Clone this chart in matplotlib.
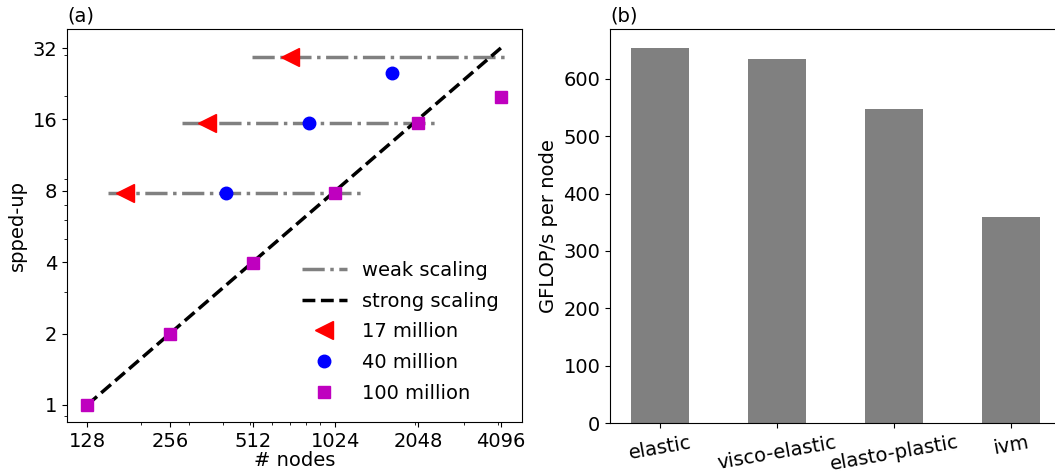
import matplotlib
matplotlib.use("Agg")
import matplotlib.pyplot as plt
from matplotlib.ticker import FixedLocator, NullFormatter, FixedFormatter

# ---- panel (a) data ----
nodes_ticks = [128, 256, 512, 1024, 2048, 4096]
speedup_ticks = [1, 2, 4, 8, 16, 32]

weak_y = [7.8, 15.5, 29.2]
weak_x_start = [152, 284, 509]
weak_x_end = [1312, 2426, 4350]

strong_x = [128, 4096]
strong_y = [1, 32]

m17_x = [175, 350, 700]
m17_y = [7.8, 15.5, 29.2]

m40_x = [410, 820, 1640]
m40_y = [7.8, 15.5, 25.0]

m100_x = [128, 256, 512, 1024, 2048, 4096]
m100_y = [1.0, 2.0, 3.95, 7.8, 15.5, 19.8]

# ---- panel (b) data ----
models = ["elastic", "visco-elastic", "elasto-plastic", "ivm"]
gflops = [653, 635, 548, 360]

plt.rcParams['font.family'] = ['DejaVu Sans']
plt.rcParams['font.size'] = 14

fig = plt.figure(figsize=(10.55, 4.73), dpi=100)
W, H = 1055, 473
ax1 = fig.add_axes([67 / W, (H - 422) / H, 454.5 / W, 392.5 / H])
ax2 = fig.add_axes([610 / W, (H - 423.3) / H, 451 / W, 393.8 / H])

# weak scaling lines
for i, (xs, xe, y) in enumerate(zip(weak_x_start, weak_x_end, weak_y)):
    ax1.plot([xs, xe], [y, y], color='gray', linestyle='-.', linewidth=2.5,
             label='weak scaling' if i == 0 else None, zorder=2)
ax1.plot(strong_x, strong_y, color='black', linestyle='--', linewidth=2.5,
         label='strong scaling', zorder=3)
ax1.plot(m17_x, m17_y, linestyle='none', marker='<', color='red', markersize=13,
         label='17 million', zorder=4)
ax1.plot(m40_x, m40_y, linestyle='none', marker='o', color='blue', markersize=9,
         label='40 million', zorder=4)
ax1.plot(m100_x, m100_y, linestyle='none', marker='s', color='m', markersize=8.5,
         label='100 million', zorder=4)

ax1.set_xscale('log')
ax1.set_yscale('log')
ax1.set_xlim(108, 4870)
ax1.set_ylim(0.847, 38.3)
ax1.xaxis.set_major_locator(FixedLocator(nodes_ticks))
ax1.xaxis.set_major_formatter(FixedFormatter([str(v) for v in nodes_ticks]))
ax1.xaxis.set_minor_formatter(NullFormatter())
ax1.yaxis.set_major_locator(FixedLocator(speedup_ticks))
ax1.yaxis.set_major_formatter(FixedFormatter([str(v) for v in speedup_ticks]))
ax1.yaxis.set_minor_formatter(NullFormatter())
ax1.set_xlabel('# nodes', labelpad=0)
ax1.set_ylabel('spped-up')
ax1.set_title('(a)', loc='left', fontsize=14)
ax1.legend(loc='lower right', bbox_to_anchor=(0.989, 0.005), frameon=False,
           fontsize=14, handlelength=2.3, labelspacing=0.6)

# panel (b)
xpos = list(range(len(models)))
ax2.bar(xpos, gflops, width=0.5, color='gray')
ax2.set_xticks(xpos)
ax2.set_xticklabels(models, rotation=10)
ax2.set_ylabel('GFLOP/s per node')
ax2.set_title('(b)', loc='left', fontsize=14)

fig.savefig('out.png', dpi=100)
